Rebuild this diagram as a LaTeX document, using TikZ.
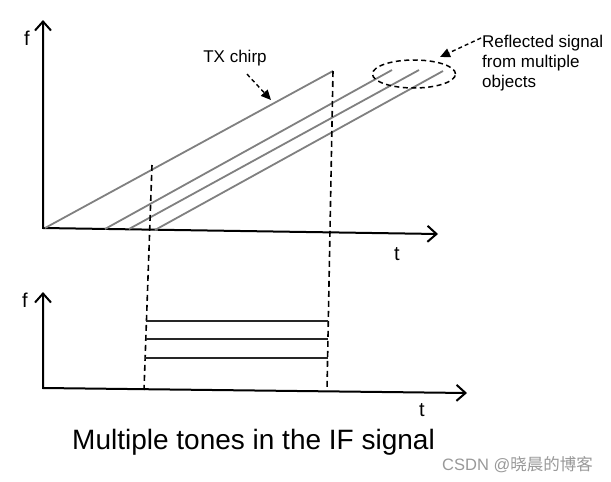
\documentclass[tikz,border=0pt]{standalone}
\usepackage{fontspec}
\setmainfont{Liberation Sans}
\newfontfamily\cjk{Noto Sans CJK SC}
\usetikzlibrary{arrows.meta,shapes.geometric}

\begin{document}
\begin{tikzpicture}[x=1pt,y=-1pt,
  axishead/.tip={Straight Barb[length=9pt,width=16pt,line width=2pt]},
  axis/.style={line width=2pt, line join=miter, axishead-axishead},
  chirp/.style={line width=1.8pt, draw=black!50},
  guide/.style={line width=1.6pt, dash pattern=on 6pt off 4pt},
  tone/.style={line width=2.4pt, draw=black!85},
  callout/.style={line width=1.4pt, dash pattern=on 4pt off 3pt, -{Triangle[length=10pt,width=9pt]}},
  lbl/.style={inner sep=0pt, font=\fontsize{17}{20}\selectfont},
  axlbl/.style={inner sep=0pt, font=\fontsize{20}{24}\selectfont}]
\useasboundingbox (0,0) rectangle (611,482);
\fill[white] (0,0) rectangle (611,482);

% ---------- top diagram ----------
\coordinate (fy1) at (43,20);
\coordinate (o1) at (43,228);
\coordinate (tx1) at (438,234);
\draw[axis] (fy1) -- (o1) -- (tx1);
\node[axlbl] (f1) at (27,38) {f};
\node[axlbl] (t1) at (397,254) {t};

% chirps
\coordinate (c0s) at (45,228);  \coordinate (c0e) at (333,71);
\coordinate (c1s) at (105,229); \coordinate (c1e) at (392,70);
\coordinate (c2s) at (129,229); \coordinate (c2e) at (419,70);
\coordinate (c3s) at (155,230); \coordinate (c3e) at (443,71);
\draw[chirp] (c0s) -- (c0e);
\draw[chirp] (c1s) -- (c1e);
\draw[chirp] (c2s) -- (c2e);
\draw[chirp] (c3s) -- (c3e);

% labels and callouts
\node[lbl] (txl) at (235,58) {TX chirp};
\coordinate (txtip) at (271,100);
\draw[callout] ([xshift=12pt,yshift=-8pt]txl.south) -- (txtip);

\node[ellipse, draw, line width=1.5pt, dash pattern=on 5pt off 3.5pt,
      minimum width=83pt, minimum height=28pt, inner sep=0pt] (ell) at (414,74) {};
\node[lbl, align=left, anchor=north west] (refl) at (482,34.5)
  {Reflected signal\\from multiple\\objects};
\coordinate (refltip) at (440,57);
\draw[callout] ([xshift=-1pt,yshift=-3.5pt]refl.north west) -- (refltip);

% ---------- guides ----------
\coordinate (g1t) at (152,165); \coordinate (g1b) at (144,390);
\coordinate (g2t) at (333,71);  \coordinate (g2b) at (327,390);
\draw[guide] (g1t) -- (g1b);
\draw[guide] (g2t) -- (g2b);

% ---------- bottom diagram ----------
\coordinate (fy2) at (43,292);
\coordinate (o2) at (43,388);
\coordinate (tx2) at (467,393);
\draw[axis] (fy2) -- (o2) -- (tx2);
\node[axlbl] (f2) at (25,300) {f};
\node[axlbl] (t2) at (422,410) {t};

\coordinate (a1) at (146.4,321); \coordinate (b1) at (328.3,321);
\coordinate (a2) at (145.8,339); \coordinate (b2) at (328.0,339);
\coordinate (a3) at (145.1,358); \coordinate (b3) at (327.6,358);
\draw[tone] (a1) -- (b1);
\draw[tone] (a2) -- (b2);
\draw[tone] (a3) -- (b3);

\node[inner sep=0pt, anchor=base, font=\fontsize{28}{32}\selectfont] (title) at (253.5,449)
  {Multiple tones in the IF signal};
\node[inner sep=0pt, anchor=base west, text=black!40, font=\fontsize{16.5}{18}\selectfont] (wm) at (442,470)
  {CSDN @{\cjk 晓晨的博客}};
\end{tikzpicture}
\end{document}
